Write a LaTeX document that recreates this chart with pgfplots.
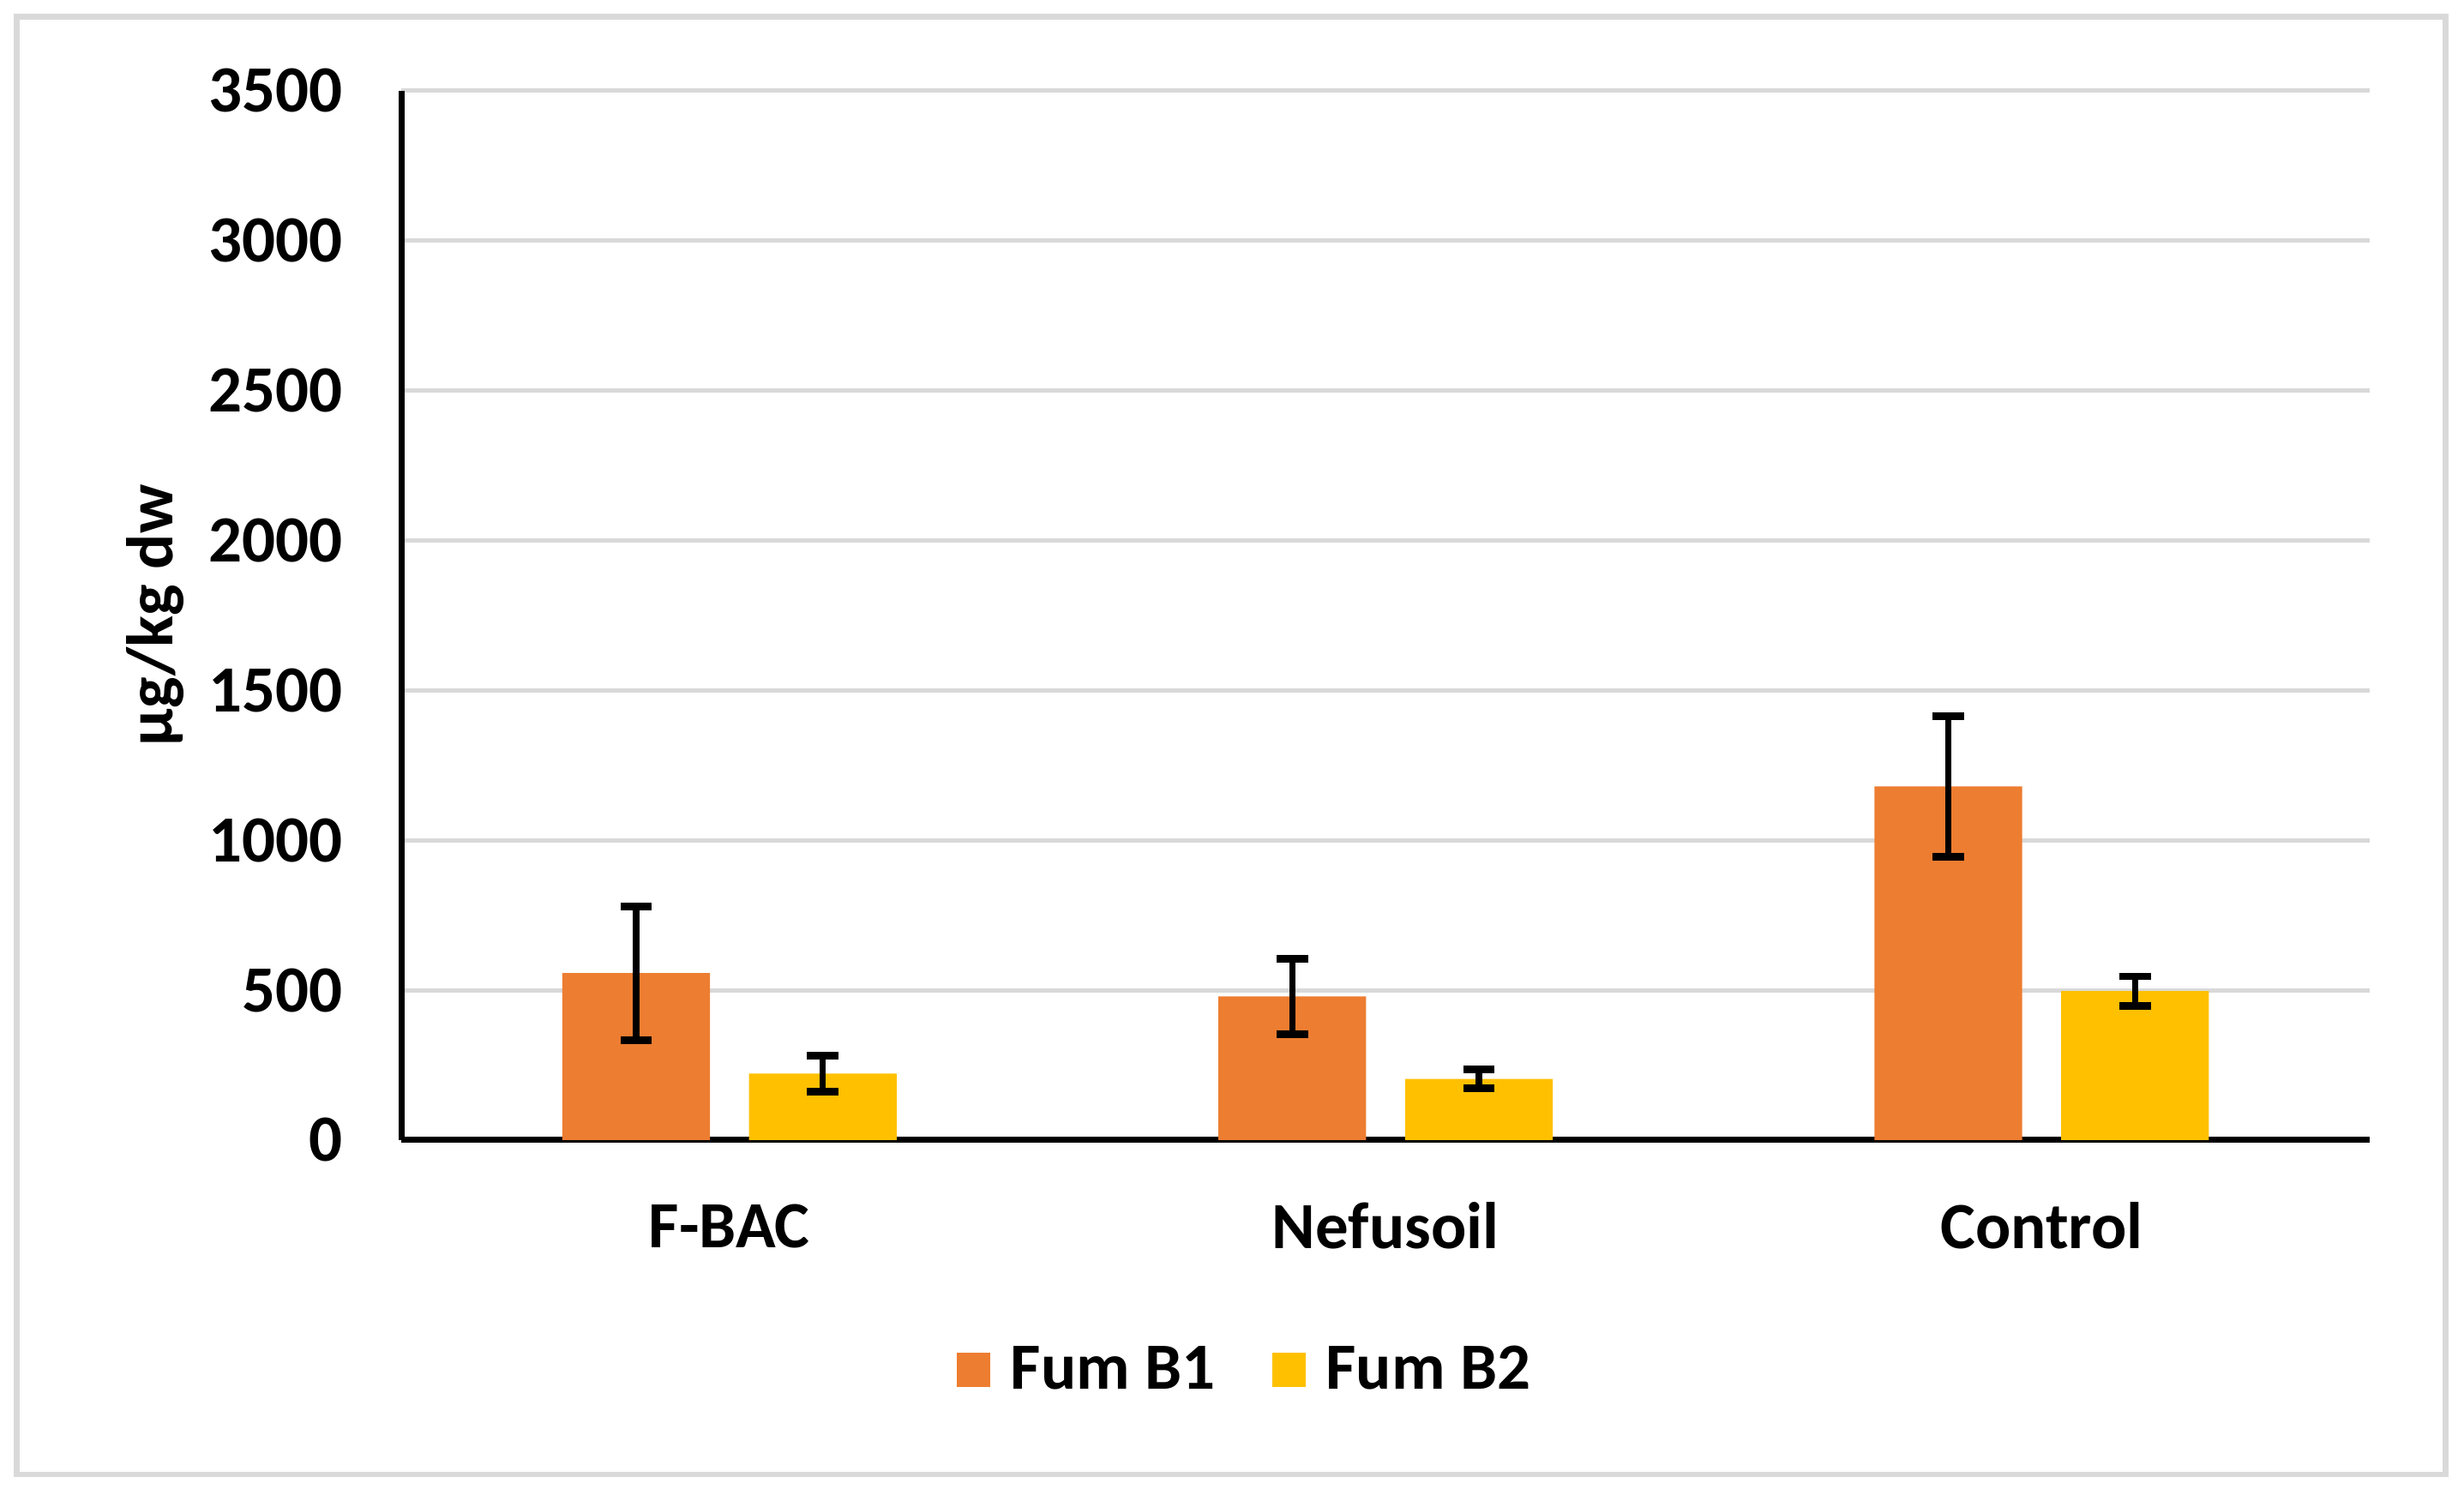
\documentclass[border=0pt]{standalone}
\usepackage{fontspec}
\setmainfont{Carlito}
\usepackage{pgfplots}
\pgfplotsset{compat=1.18}
\definecolor{fumone}{HTML}{ED7D31}
\definecolor{fumtwo}{HTML}{FFC000}
\definecolor{gridgray}{HTML}{D9D9D9}
\begin{document}
\begin{tikzpicture}
\begin{axis}[
  scale only axis,
  width=626.3pt, height=333.9pt,
  ybar=12.4pt, bar width=47pt,
  xmin=-0.5, xmax=2.5,
  ymin=0, ymax=3500,
  ytick={0,500,...,3500},
  xtick={0,1,2},
  xticklabels={F-BAC,Nefusoil,Control},
  axis x line*=bottom, axis y line*=left,
  axis line style={black, line width=1.9pt},
  major tick length=0pt,
  ymajorgrids,
  grid style={gridgray, line width=1.4pt},
  /pgf/number format/assume math mode=true,
  /pgf/number format/1000 sep={},
  tick label style={font=\bfseries\fontsize{21}{25}\selectfont},
  yticklabel style={anchor=east, inner sep=0pt, xshift=-18.5pt},
  xticklabel style={anchor=center, inner sep=0pt, yshift=-27.3pt},
  ylabel={µg/kg dw},
  ylabel style={font=\bfseries\fontsize{21}{25}\selectfont, at={(axis description cs:-0.125,0.5)}, anchor=center},
  legend columns=2,
  legend cell align=left,
  legend style={draw=none, fill=none, at={(axis description cs:0.4332,0)}, anchor=center, yshift=-73.2pt,
     font=\bfseries\fontsize{21}{25}\selectfont,
     /tikz/every even column/.append style={column sep=11.5pt},
     nodes={inner xsep=6.5pt, inner ysep=3pt}},
  legend image code/.code={\fill[#1] (0pt,-5.5pt) rectangle (10.6pt,5.5pt);},
  error bars/y dir=both, error bars/y explicit,
  error bars/error bar style={black, line width=2pt},
  error bars/error mark options={black, line width=2.4pt, mark size=5pt, rotate=90},
  clip=false,
]
\addplot[fill=fumone, draw=none] coordinates {
  (0,557) +- (0,223)
  (1,479) +- (0,125)
  (2,1180) +- (0,234)
};
\addlegendentry{Fum B1}
\addplot[fill=fumtwo, draw=none] coordinates {
  (0,222) +- (0,60)
  (1,204) +- (0,32)
  (2,497) +- (0,49)
};
\addlegendentry{Fum B2}
\end{axis}
\pgfresetboundingbox
\path[use as bounding box] ([shift={(-127.7pt,-112.7pt)}]current axis.south west) rectangle ([shift={(30pt,28.9pt)}]current axis.north east);
\draw[gridgray, line width=1.9pt] ([shift={(-122.5pt,-106.4pt)}]current axis.south west) rectangle ([shift={(24pt,23.6pt)}]current axis.north east);
\end{tikzpicture}
\end{document}
